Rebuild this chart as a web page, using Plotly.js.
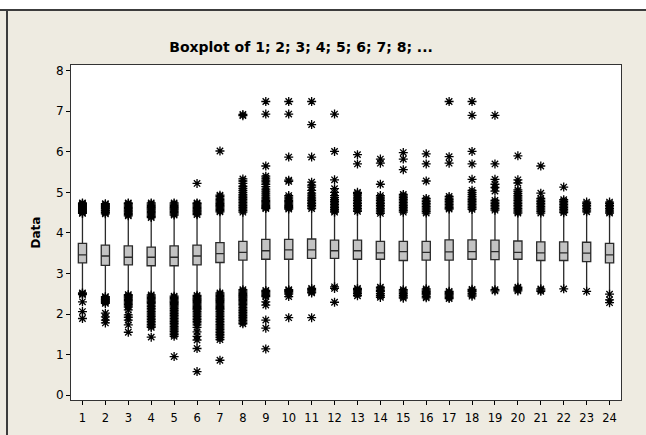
<!DOCTYPE html>
<html>
<head>
<meta charset="utf-8">
<script src="https://cdn.plot.ly/plotly-3.0.1.min.js"></script>
<style>
  html, body { margin: 0; padding: 0; background: #EEEBE1; }
  #wrap { position: relative; width: 646px; height: 435px; overflow: hidden; }
  #chart { position: absolute; left: 0; top: 0; width: 646px; height: 435px; }
  #topstrip { position: absolute; left: 0; top: 0; width: 646px; height: 9px; background: #ffffff; border-bottom: 2px solid #3c3c3c; pointer-events: none; }
  #leftline { position: absolute; left: 6px; top: 9px; width: 2px; height: 426px; background: #3c3c3c; pointer-events: none; }
</style>
</head>
<body>
<div id="wrap">
  <div id="chart"></div>
  <div id="topstrip"></div>
  <div id="leftline"></div>
</div>
<script>
// ---- data ----
const categories = [1,2,3,4,5,6,7,8,9,10,11,12,13,14,15,16,17,18,19,20,21,22,23,24];
const tickLabels = ["1","2","3","4","5","6","7","8","9","10","11","12","13","14","15","16","17","18","19","20","21","22","23","24"];

const q1Values     = [3.26,3.20,3.21,3.19,3.19,3.21,3.27,3.33,3.35,3.35,3.37,3.37,3.35,3.35,3.32,3.33,3.33,3.35,3.34,3.35,3.32,3.32,3.29,3.26];
const medianValues = [3.46,3.43,3.40,3.40,3.40,3.43,3.49,3.52,3.56,3.58,3.58,3.56,3.56,3.51,3.54,3.52,3.53,3.54,3.54,3.52,3.51,3.51,3.50,3.46];
const q3Values     = [3.74,3.70,3.68,3.65,3.68,3.70,3.76,3.79,3.84,3.84,3.85,3.82,3.82,3.79,3.79,3.79,3.83,3.83,3.82,3.80,3.78,3.78,3.77,3.74];
const upperWhisker = [4.45,4.44,4.38,4.33,4.41,4.43,4.49,4.48,4.57,4.57,4.56,4.49,4.52,4.45,4.49,4.47,4.57,4.55,4.53,4.47,4.47,4.47,4.49,4.46];
const lowerWhisker = [2.55,2.46,2.51,2.50,2.46,2.48,2.54,2.64,2.62,2.62,2.65,2.70,2.65,2.69,2.62,2.64,2.58,2.63,2.62,2.68,2.64,2.65,2.58,2.54];

const highOutliers = [
  [4.48,4.50,4.53,4.55,4.58,4.60,4.63,4.65,4.68,4.70,4.72,4.74],
  [4.47,4.50,4.52,4.55,4.57,4.60,4.62,4.65,4.67,4.70,4.72],
  [4.42,4.45,4.48,4.51,4.54,4.57,4.60,4.63,4.66,4.69,4.72,4.74],
  [4.38,4.41,4.44,4.47,4.50,4.53,4.56,4.59,4.62,4.65,4.68,4.71,4.74],
  [4.44,4.47,4.50,4.53,4.56,4.59,4.62,4.65,4.68,4.71,4.74],
  [4.45,4.48,4.51,4.54,4.57,4.60,4.63,4.66,4.69,4.72,4.74,5.22],
  [4.52,4.55,4.58,4.61,4.64,4.67,4.70,4.73,4.76,4.79,4.82,4.86,4.90,4.93,6.02],
  [4.51,4.55,4.59,4.63,4.67,4.71,4.75,4.79,4.83,4.87,4.91,4.95,5.00,5.05,5.10,5.15,5.22,5.28,5.33,6.89,6.92],
  [4.60,4.62,4.65,4.68,4.71,4.74,4.77,4.80,4.84,4.88,4.93,4.98,5.03,5.08,5.14,5.20,5.26,5.30,5.35,5.40,5.65,6.93,7.24],
  [4.59,4.62,4.65,4.68,4.71,4.74,4.77,4.80,4.84,4.88,4.92,5.27,5.30,5.87,6.93,7.24],
  [4.60,4.64,4.68,4.72,4.76,4.80,4.84,4.88,4.93,4.98,5.05,5.13,5.18,5.25,5.87,6.67,7.24],
  [4.51,4.54,4.58,4.62,4.66,4.70,4.74,4.78,4.82,4.87,4.92,5.00,5.09,5.31,6.01,6.93],
  [4.53,4.56,4.60,4.64,4.68,4.72,4.76,4.80,4.84,4.88,4.93,4.97,5.00,5.70,5.93],
  [4.48,4.52,4.56,4.60,4.64,4.68,4.72,4.76,4.80,4.84,4.88,4.92,5.20,5.72,5.82],
  [4.51,4.55,4.59,4.63,4.67,4.71,4.75,4.79,4.83,4.87,4.91,4.95,5.56,5.82,5.98],
  [4.49,4.53,4.57,4.61,4.65,4.69,4.73,4.77,4.81,4.85,5.28,5.70,5.95],
  [4.59,4.62,4.66,4.70,4.74,4.78,4.82,4.86,4.90,5.72,5.88,7.24],
  [4.58,4.62,4.66,4.70,4.74,4.78,4.82,4.86,4.90,4.95,5.00,5.05,5.32,5.70,6.01,6.90,7.24],
  [4.56,4.60,4.64,4.68,4.72,4.76,4.80,5.03,5.12,5.20,5.32,5.70,6.90],
  [4.49,4.52,4.56,4.60,4.64,4.68,4.72,4.76,4.80,4.84,4.88,4.92,4.97,5.02,5.06,5.23,5.31,5.90],
  [4.49,4.53,4.57,4.61,4.65,4.69,4.73,4.77,4.81,4.85,4.98,5.65],
  [4.50,4.54,4.58,4.62,4.66,4.70,4.74,4.78,4.82,5.13],
  [4.52,4.56,4.60,4.64,4.68,4.72,4.76],
  [4.49,4.52,4.56,4.60,4.64,4.68,4.72,4.76]
];

const lowOutliers = [
  [2.52,2.50,2.48,2.30,2.06,1.89],
  [2.43,2.41,2.38,2.36,2.34,2.31,2.29,2.26,2.02,1.93,1.85,1.78],
  [2.48,2.45,2.42,2.39,2.36,2.33,2.30,2.27,2.24,2.20,2.17,2.10,1.98,1.92,1.85,1.73,1.55],
  [2.47,2.44,2.41,2.38,2.35,2.32,2.29,2.26,2.22,2.18,2.14,2.10,2.06,2.02,1.98,1.94,1.90,1.86,1.82,1.78,1.74,1.70,1.67,1.43],
  [2.44,2.41,2.38,2.35,2.32,2.29,2.26,2.23,2.20,2.17,2.13,2.09,2.05,2.01,1.97,1.93,1.89,1.85,1.81,1.77,1.73,1.69,1.65,1.61,1.57,1.53,1.49,1.45,0.95],
  [2.46,2.43,2.40,2.37,2.34,2.31,2.28,2.25,2.22,2.19,2.16,2.13,2.10,2.06,2.02,1.98,1.94,1.90,1.86,1.82,1.78,1.73,1.67,1.56,1.45,1.36,1.15,0.58],
  [2.52,2.49,2.46,2.43,2.40,2.37,2.34,2.31,2.28,2.25,2.22,2.19,2.16,2.13,2.10,2.06,2.02,1.98,1.94,1.90,1.86,1.82,1.78,1.74,1.70,1.66,1.62,1.58,1.54,1.50,1.46,1.42,1.37,0.86],
  [2.60,2.57,2.54,2.51,2.48,2.45,2.42,2.39,2.36,2.33,2.30,2.27,2.24,2.20,2.16,2.12,2.08,2.04,2.00,1.96,1.92,1.88,1.84,1.80,1.76],
  [2.58,2.55,2.52,2.49,2.46,2.43,2.30,2.22,1.85,1.65,1.14],
  [2.60,2.58,2.55,2.52,2.49,2.43,1.91],
  [2.63,2.60,2.57,2.54,2.52,1.91],
  [2.67,2.63,2.29],
  [2.63,2.60,2.57,2.54,2.50,2.45],
  [2.66,2.62,2.58,2.55,2.50,2.45,2.41],
  [2.60,2.57,2.54,2.50,2.46,2.42,2.39],
  [2.62,2.59,2.56,2.53,2.50,2.47,2.43,2.40],
  [2.56,2.53,2.50,2.47,2.44,2.41,2.38],
  [2.61,2.58,2.55,2.51,2.47,2.44],
  [2.60,2.57],
  [2.66,2.63,2.60,2.57],
  [2.62,2.59,2.56],
  [2.62],
  [2.56],
  [2.49,2.35,2.28]
];

const yTicks = [0,1,2,3,4,5,6,7,8];
const chartTitle = "Boxplot of 1; 2; 3; 4; 5; 6; 7; 8; ...";
const yTitle = "Data";

// ---- build traces ----
const outX = [], outY = [];
categories.forEach((c, i) => {
  highOutliers[i].forEach(v => { outX.push(c); outY.push(v); });
  lowOutliers[i].forEach(v => { outX.push(c); outY.push(v); });
});

const boxTrace = {
  type: 'box',
  x: categories,
  q1: q1Values,
  median: medianValues,
  q3: q3Values,
  lowerfence: lowerWhisker,
  upperfence: upperWhisker,
  width: 0.36,
  whiskerwidth: 0,
  boxpoints: false,
  fillcolor: '#C3C3C3',
  line: { color: '#2a2a2a', width: 1.3 },
  hoverinfo: 'skip',
  showlegend: false
};

const outlierTrace = {
  type: 'scatter',
  mode: 'markers',
  x: outX,
  y: outY,
  marker: { symbol: 'asterisk-open', size: 7.5, color: '#000', line: { color: '#000', width: 1.3 } },
  hoverinfo: 'skip',
  showlegend: false
};

const layout = {
  width: 646,
  height: 435,
  margin: { l: 71, r: 25, t: 65, b: 35 },
  paper_bgcolor: '#EEEBE1',
  plot_bgcolor: '#FFFFFF',
  font: { family: 'DejaVu Sans, Verdana, sans-serif', size: 12, color: '#000' },
  title: {
    text: '<b>' + chartTitle + '</b>',
    font: { family: 'DejaVu Sans, sans-serif', size: 14, color: '#000' },
    x: 0.466, xref: 'container', xanchor: 'center',
    y: 1 - 47/435, yref: 'container', yanchor: 'middle'
  },
  xaxis: {
    range: [0.5, 24.5],
    tickmode: 'array',
    tickvals: categories,
    ticktext: tickLabels,
    ticks: 'outside', ticklen: 4, tickcolor: '#000', tickwidth: 1,
    ticklabelstandoff: 3,
    showgrid: false, zeroline: false,
    showline: true, linecolor: '#333', linewidth: 1, mirror: true,
    tickfont: { family: 'DejaVu Sans, sans-serif', size: 11.5, color: '#000' },
    fixedrange: true
  },
  yaxis: {
    range: [-0.12, 8.14],
    tickmode: 'array',
    tickvals: yTicks,
    ticks: 'outside', ticklen: 4, tickcolor: '#000', tickwidth: 1,
    showgrid: false, zeroline: false,
    showline: true, linecolor: '#333', linewidth: 1, mirror: true,
    tickfont: { family: 'DejaVu Sans, sans-serif', size: 12, color: '#000' },
    title: { text: '<b>' + yTitle + '</b>', font: { family: 'DejaVu Sans, sans-serif', size: 12, color: '#000' }, standoff: 12 },
    fixedrange: true
  }
};

Plotly.newPlot('chart', [boxTrace, outlierTrace], layout, { staticPlot: true, displayModeBar: false });
</script>
</body>
</html>
